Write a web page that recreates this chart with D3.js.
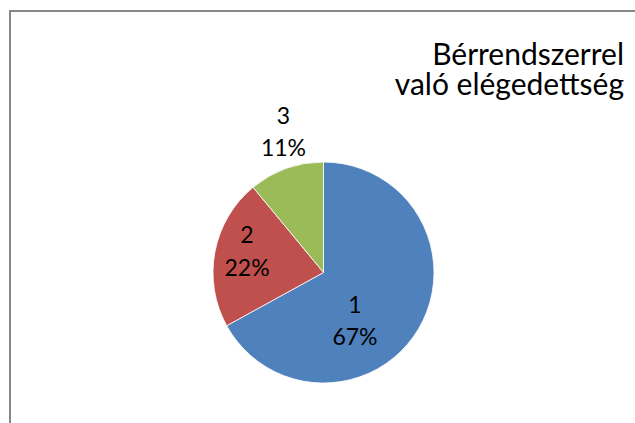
<!DOCTYPE html>
<html>
<head>
<meta charset="utf-8">
<script src="https://cdn.jsdelivr.net/npm/d3@7"></script>
<style>
  body { margin: 0; background: #fff; }
  text { font-family: Lato, "Open Sans", sans-serif; fill: #000; }
</style>
</head>
<body>
<svg id="chart" width="635" height="423"></svg>
<script>
// data
let categories = ['1', '2', '3'];
let values = [67, 22, 11];
let colors = ['#4F81BD', '#C0504D', '#9BBB59'];
let titleLines = ['Bérrendszerrel', 'való elégedettség'];

let svg = d3.select('#chart');
let cx = 323.5, cy = 272.5, radius = 110.5;

// chart frame (cut off at right / bottom like the screenshot)
svg.append('rect')
   .attr('x', 10).attr('y', 11)
   .attr('width', 800).attr('height', 800)
   .attr('fill', 'none')
   .attr('stroke', '#878787')
   .attr('stroke-width', 2)

let pie = d3.pie().sort(null).value(d => d)
let arcs = pie(values)
let arc = d3.arc().innerRadius(0).outerRadius(radius)
let color = d3.scaleOrdinal().domain(categories).range(colors)

let g = svg.append('g').attr('transform', `translate(${cx},${cy})`)

g.selectAll('path')
 .data(arcs)
 .enter()
 .append('path')
 .attr('d', arc)
 .attr('fill', (d, i) => color(categories[i]))
 .attr('stroke', '#fff')
 .attr('stroke-width', 0.8)

// label placement relative to pie centre, in units of radius
let labelOffset = [[0.285, 0.443], [-0.692, -0.19], [-0.362, -1.271]]
let fmt = d3.format('.0%')
let total = d3.sum(values)

let labels = g.selectAll('text.lbl')
 .data(arcs)
 .enter()
 .append('text')
 .attr('class', 'lbl')
 .attr('text-anchor', 'middle')
 .style('font-size', '23px')
 .attr('transform', (d, i) => `translate(${labelOffset[i][0] * radius},${labelOffset[i][1] * radius})`)

labels.append('tspan').attr('x', 0).attr('y', -8.5).text((d, i) => categories[i])
labels.append('tspan').attr('x', 0).attr('y', 24).text(d => fmt(d.value / total))

// title, right aligned
svg.append('text')
   .attr('text-anchor', 'end')
   .style('font-size', '30px')
   .selectAll('tspan')
   .data(titleLines)
   .enter()
   .append('tspan')
   .attr('x', 624)
   .attr('y', (d, i) => 65 + i * 30)
   .text(d => d)
</script>
</body>
</html>
